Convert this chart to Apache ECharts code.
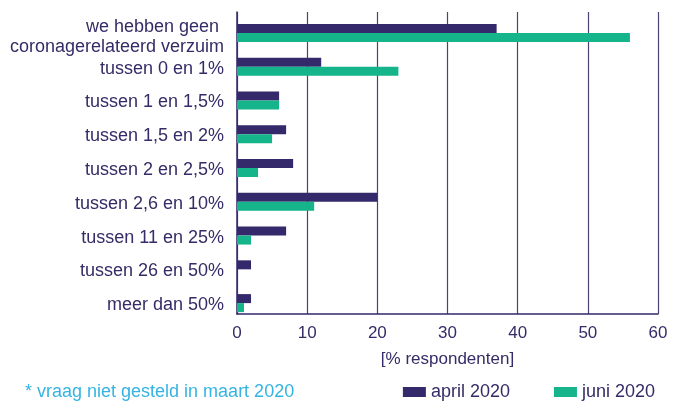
<!DOCTYPE html>
<html>
<head>
<meta charset="utf-8">
<script src="https://cdn.jsdelivr.net/npm/echarts@6/dist/echarts.min.js"></script>
<style>
  html, body { margin: 0; padding: 0; background: #fff; }
  #chart { width: 686px; height: 401px; }
</style>
</head>
<body>
<div id="chart"></div>
<script>
// categorieën (van boven naar beneden)
const categories = [
  'we hebben geen \ncoronagerelateerd verzuim',
  'tussen 0 en 1%',
  'tussen 1 en 1,5%',
  'tussen 1,5 en 2%',
  'tussen 2 en 2,5%',
  'tussen 2,6 en 10%',
  'tussen 11 en 25%',
  'tussen 26 en 50%',
  'meer dan 50%'
];
const april2020 = [37, 12, 6, 7, 8, 20, 7, 2, 2];
const juni2020 = [56, 23, 6, 5, 3, 11, 2, 0, 1];
const seriesNames = ['april 2020', 'juni 2020'];
const note = '* vraag niet gesteld in maart 2020';

const purple = '#34296a';
const green = '#15b48a';
const textColor = '#342c66';
const font = 'Liberation Sans';

let myChart = echarts.init(document.getElementById('chart'));
myChart.setOption({
  animation: false,
  textStyle: { fontFamily: font },
  // grid 0: de balken, grid 1: assen en rasterlijnen
  grid: [
    { left: 237, right: 28, top: 16, bottom: 81 },
    { left: 237, right: 28, top: 12, bottom: 87 }
  ],
  legend: {
    data: seriesNames,
    right: 26,
    top: 378,
    itemWidth: 23,
    itemHeight: 10,
    itemGap: 44,
    icon: 'rect',
    textStyle: { color: textColor, fontSize: 18 }
  },
  graphic: [{
    type: 'text',
    left: 25,
    top: 383,
    style: { text: note, fill: '#35b4e3', fontSize: 18, fontFamily: font }
  }],
  xAxis: [
    { gridIndex: 0, type: 'value', min: 0, max: 60, show: false },
    {
      gridIndex: 1,
      type: 'value',
      min: 0,
      max: 60,
      interval: 10,
      name: '[% respondenten]',
      nameLocation: 'middle',
      nameGap: 37,
      nameTextStyle: { color: textColor, fontSize: 17 },
      axisLine: { show: true, lineStyle: { color: purple, width: 1.5 } },
      axisTick: { show: false },
      axisLabel: { color: textColor, fontSize: 17, margin: 11 },
      splitLine: { show: true, lineStyle: { color: '#4b4275', width: 1.2 } }
    }
  ],
  yAxis: [
    {
      gridIndex: 0,
      type: 'category',
      data: categories,
      inverse: true,
      axisLine: { show: false },
      axisTick: { show: false },
      axisLabel: {
        color: textColor, fontSize: 18, margin: 13, lineHeight: 20,
        interval: 0, hideOverlap: false,
        // lege regel bovenaan om de labels iets omlaag te schuiven
        formatter: function (value, idx) {
          return (idx === 0 ? '{s8| }\n' : '{s4| }\n') + value;
        },
        rich: {
          s8: { fontSize: 4, lineHeight: 8 },
          s4: { fontSize: 4, lineHeight: 4 }
        }
      }
    },
    {
      gridIndex: 1,
      type: 'value',
      min: 0,
      max: 1,
      axisLine: { show: true, lineStyle: { color: purple, width: 1.5 } },
      axisTick: { show: false },
      axisLabel: { show: false },
      splitLine: { show: false }
    }
  ],
  series: [
    { name: seriesNames[0], type: 'bar', xAxisIndex: 0, yAxisIndex: 0, data: april2020, barWidth: 9, barGap: '0%', itemStyle: { color: purple } },
    { name: seriesNames[1], type: 'bar', xAxisIndex: 0, yAxisIndex: 0, data: juni2020, barWidth: 9, barGap: '0%', itemStyle: { color: green } }
  ]
});
</script>
</body>
</html>
